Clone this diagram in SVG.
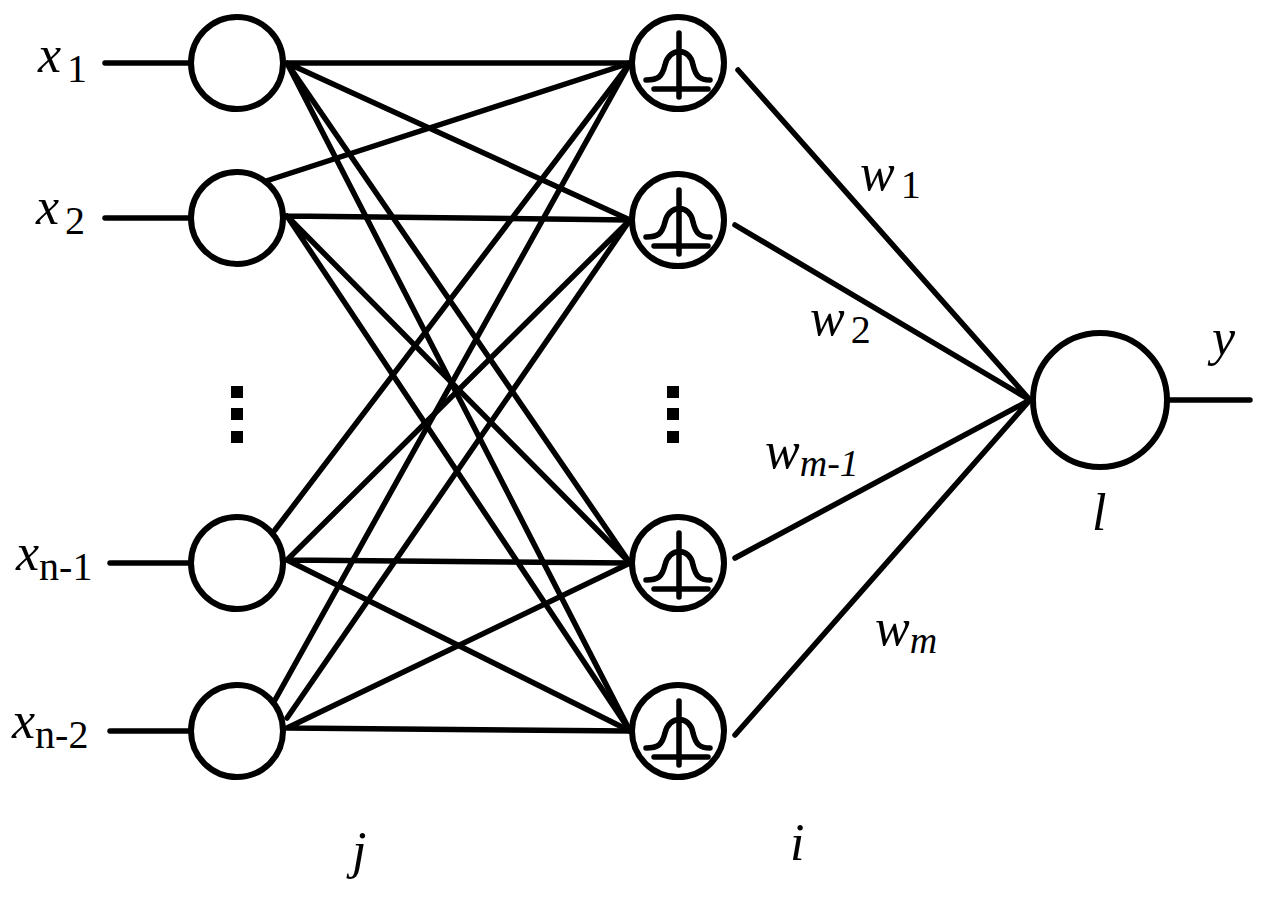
<svg xmlns="http://www.w3.org/2000/svg" width="1269" height="911" viewBox="0 0 1269 911">
<style>
.l{stroke:#000;stroke-width:5.5;fill:none;stroke-linecap:round}
.n{stroke:#000;stroke-width:6;fill:#fff}
.t{font-family:"Liberation Serif",serif;font-size:52px;font-style:italic}
.s{font-family:"Liberation Serif",serif;font-size:40px;font-style:normal}
.d{fill:#000}
</style>
<defs>
<g id="g">
<circle class="n" cx="0" cy="0" r="46"/>
<path class="l" stroke-width="6" d="M1-30V34M-24 26H30M-32 17C-20 17-16 14-13 2C-9-16 12-16 15 2C18 14 22 17 32 17"/>
</g>
</defs>
<g id="connectors">
<path class="l" d="M105 63H190M105 218H190M110 563H190M110 731H190M1170 400H1250"/>
<g>
<path class="l" d="M287 63L630 63M287 63L630 220M287 63L630 563M287 63L630 731"/>
<path class="l" d="M260 183L630 63M287 216L630 220M287 216L630 563M287 216L630 731"/>
<path class="l" d="M275 530L630 63M287 560L630 220M287 560L630 563M287 560L630 731"/>
<path class="l" d="M275 700L630 63M287 718L630 220M287 728L630 563M287 728L630 731"/>
<path class="l" d="M738 70L1030 400M735 225L1030 400M735 558L1030 400M735 735L1030 400"/>
</g>
</g>
<g id="inputs">
<circle class="n" cx="237" cy="63" r="46"/>
<circle class="n" cx="237" cy="218" r="46"/>
<circle class="n" cx="237" cy="563" r="46"/>
<circle class="n" cx="237" cy="731" r="46"/>
</g>
<g id="hidden">
<use href="#g" x="678" y="63"/>
<use href="#g" x="678" y="220"/>
<use href="#g" x="678" y="563"/>
<use href="#g" x="678" y="731"/>
</g>
<g id="output"><circle class="n" cx="1100" cy="400" r="67"/></g>
<g id="dots">
<rect class="d" x="231" y="386" width="12" height="12"/><rect class="d" x="231" y="408" width="12" height="12"/><rect class="d" x="231" y="431" width="12" height="12"/>
<rect class="d" x="667" y="386" width="12" height="12"/><rect class="d" x="667" y="408" width="12" height="12"/><rect class="d" x="667" y="431" width="12" height="12"/>
</g>
<g id="labels">
<text class="t" x="38" y="72">x<tspan class="s" dx="6" dy="10">1</tspan></text>
<text class="t" x="36" y="224">x<tspan class="s" dx="6" dy="10">2</tspan></text>
<text class="t" x="16" y="570">x<tspan class="s" dy="10">n-1</tspan></text>
<text class="t" x="12" y="738">x<tspan class="s" dy="10">n-2</tspan></text>
<text class="t" x="860" y="190">w<tspan class="s" dx="6" dy="8">1</tspan></text>
<text class="t" x="810" y="335">w<tspan class="s" dx="6" dy="8">2</tspan></text>
<text class="t" x="765" y="468">w<tspan font-size="38" dy="8">m-1</tspan></text>
<text class="t" x="875" y="645">w<tspan font-size="38" dy="8">m</tspan></text>
<text class="t" x="1212" y="355">y</text>
<text class="t" x="1092" y="530">l</text>
<text class="t" x="352" y="868">j</text>
<text class="t" x="790" y="860">i</text>
</g>
</svg>
